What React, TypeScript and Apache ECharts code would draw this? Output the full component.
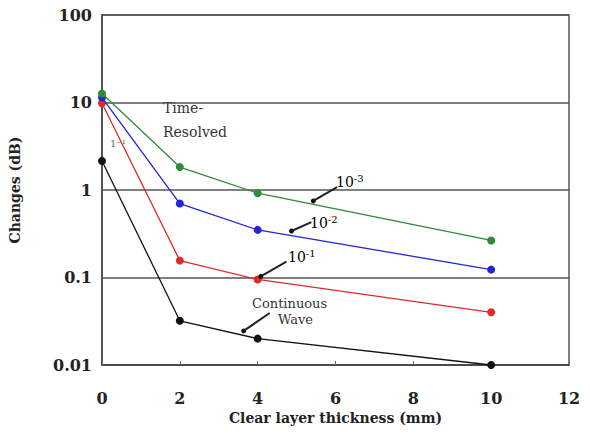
import React, { useEffect, useRef } from "react";
import * as echarts from "echarts";

const thickness = [0, 2, 4, 10];
const tr3 = [12.7, 1.83, 0.92, 0.265];
const tr2 = [11.4, 0.7, 0.35, 0.123];
const tr1 = [9.8, 0.156, 0.095, 0.04];
const cw = [2.15, 0.032, 0.02, 0.01];
const seriesNames = ["10^-3", "10^-2", "10^-1", "Continuous Wave"];
const seriesColors = ["#2e8b3a", "#2525d8", "#e02a2a", "#111111"];
// pointer lines for the curve labels: start and end in data coordinates
const pointerStartX = [5.43, 4.87, 4.08, 3.64];
const pointerStartY = [0.75, 0.34, 0.103, 0.0245];
const pointerEndX = [6.04, 5.38, 4.74, 4.31];
const pointerEndY = [1.08, 0.43, 0.152, 0.0393];

const F = "DejaVu Serif";

export default function App() {
  const ref = useRef<HTMLDivElement>(null);
  useEffect(() => {
    if (!ref.current) return;
    const chart = echarts.init(ref.current, null, { renderer: "svg" });
    const all = [tr3, tr2, tr1, cw];
    const label = (x: number, y: number, sup: string) => ({
      type: "text",
      x,
      y,
      style: {
        text: "{b|10}{s|" + sup + "}",
        rich: {
          b: { fontFamily: F, fontSize: 14, color: "#333" },
          s: { fontFamily: F, fontSize: 10, color: "#333", verticalAlign: "top", padding: [0, 0, 8, 0] },
        },
      },
    });
    chart.setOption({
      animation: false,
      backgroundColor: "#fff",
      grid: { left: 98, right: 21, top: 15, bottom: 69, show: true, borderColor: "#555", borderWidth: 1.5 },
      xAxis: {
        type: "value",
        min: 0,
        max: 12,
        interval: 2,
        name: "Clear layer thickness (mm)",
        nameLocation: "middle",
        nameGap: 45,
        nameTextStyle: { fontFamily: F, fontSize: 14, fontWeight: "bold", color: "#222" },
        axisLine: { onZero: false, lineStyle: { color: "#444", width: 1.5 } },
        axisTick: { inside: true, length: 4, lineStyle: { color: "#666" } },
        axisLabel: { fontFamily: F, fontSize: 16, fontWeight: "bold", color: "#222", margin: 25 },
        splitLine: { show: false },
      },
      yAxis: {
        type: "log",
        min: 0.01,
        max: 100,
        logBase: 10,
        name: "Changes (dB)",
        nameLocation: "middle",
        nameGap: 80,
        nameTextStyle: { fontFamily: F, fontSize: 14, fontWeight: "bold", color: "#222" },
        axisLine: { lineStyle: { color: "#444", width: 1.5 } },
        axisTick: { show: false },
        axisLabel: {
          fontFamily: F,
          fontSize: 16,
          fontWeight: "bold",
          color: "#222",
          margin: 10,
          formatter: (v: number) => (v >= 1 ? String(Math.round(v)) : String(v)),
        },
        splitLine: { show: true, lineStyle: { color: "#555", width: 1.5 } },
      },
      series: [
        ...all.map((vals, i) => ({
          name: seriesNames[i],
          type: "line",
          data: thickness.map((x, j) => [x, vals[j]]),
          symbol: "circle",
          symbolSize: 8,
          lineStyle: { color: seriesColors[i], width: 1.3 },
          itemStyle: { color: seriesColors[i] },
          z: 3 + (3 - i),
        })),
        {
          name: "pointers",
          type: "custom",
          silent: true,
          z: 10,
          data: pointerStartX.map((x, k) => [x, pointerStartY[k], pointerEndX[k], pointerEndY[k]]),
          renderItem: (params: any, api: any) => {
            const a = api.coord([api.value(0), api.value(1)]);
            const b = api.coord([api.value(2), api.value(3)]);
            const dx = b[0] - a[0];
            const dy = b[1] - a[1];
            const len = Math.sqrt(dx * dx + dy * dy) || 1;
            const h = 1.0;
            const nx = (-dy / len) * h;
            const ny = (dx / len) * h;
            return {
              type: "group",
              children: [
                {
                  type: "polygon",
                  shape: {
                    points: [
                      [a[0] + nx, a[1] + ny],
                      [b[0] + nx, b[1] + ny],
                      [b[0] - nx, b[1] - ny],
                      [a[0] - nx, a[1] - ny],
                    ],
                  },
                  style: { fill: "#222" },
                },
                { type: "circle", shape: { cx: a[0], cy: a[1], r: 2.5 }, style: { fill: "#111" } },
              ],
            };
          },
        },
      ],
      graphic: [
        { type: "text", x: 163, y: 101, style: { text: "Time-", fontFamily: F, fontSize: 14, fill: "#333" } },
        { type: "text", x: 163, y: 125, style: { text: "Resolved", fontFamily: F, fontSize: 14, fill: "#333" } },
        { type: "text", x: 110, y: 138, style: { text: "1\u207B\u00B9", fontFamily: F, fontSize: 10, fill: "#666" } },
        label(336, 173, "-3"),
        label(310, 214, "-2"),
        label(288, 248, "-1"),
        { type: "text", x: 252, y: 297, style: { text: "Continuous", fontFamily: F, fontSize: 13, fill: "#333" } },
        { type: "text", x: 278, y: 313, style: { text: "Wave", fontFamily: F, fontSize: 13, fill: "#333" } },
      ],
    });
    return () => chart.dispose();
  }, []);
  return <div ref={ref} style={{ width: 590, height: 434, position: "absolute", left: 0, top: 0 }} />;
}
